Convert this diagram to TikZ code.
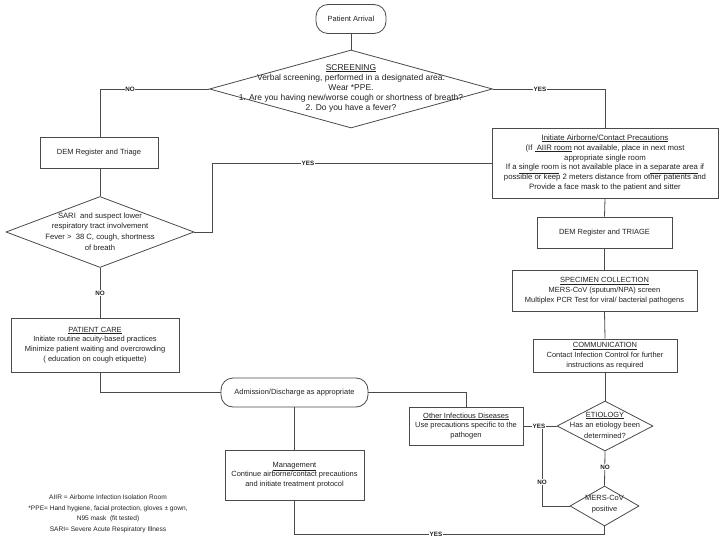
\documentclass[tikz,border=0pt]{standalone}
\usepackage{fontspec}
\setmainfont{Liberation Sans}
\usetikzlibrary{shapes.geometric}
\definecolor{linec}{HTML}{4A4A4A}
\definecolor{txt}{HTML}{222222}
\begin{document}
\begin{tikzpicture}[x=1bp,y=-1bp,
  box/.style={draw=linec, line width=0.8bp, fill=white, align=center, inner sep=1bp, text=txt, font=\fontsize{7.5}{9.8}\selectfont},
  pill/.style={box, rounded corners=12bp},
  dia/.style={draw=linec, diamond, inner sep=0pt, line width=0.8bp, fill=white},
  diatext/.style={align=center, inner sep=0pt, text=txt, font=\fontsize{7.5}{10.5}\selectfont},
  lbl/.style={font=\bfseries\fontsize{6.3}{7}\selectfont, fill=white, inner sep=0.6bp, text=txt},
  conn/.style={draw=linec, line width=0.8bp}
]
\useasboundingbox[fill=white] (0,0) rectangle (722,541);

% nodes
\node[pill, minimum width=70bp, minimum height=29bp] (arr) at (351,19) {Patient Arrival};

\node[dia, minimum width=283bp, minimum height=78bp] (scr) at (351,89) {};
\node[diatext, font=\fontsize{8.5}{10}\selectfont] (scrt) at (351,88) {\underline{SCREENING}\\Verbal screening, performed in a designated area.\\Wear *PPE.\\1. Are you having new/worse cough or shortness of breath?\\2. Do you have a fever?};

\node[box, minimum width=118bp, minimum height=31bp] (dem1) at (99,153) {DEM Register and Triage};

\node[dia, minimum width=188bp, minimum height=71bp] (sari) at (100,232) {};
\node[diatext, font=\fontsize{7.7}{10.8}\selectfont] (sarit) at (100,231.5) {SARI\ \ and suspect lower\\respiratory tract involvement\\Fever >\ \ 38 C, cough, shortness\\of breath};

\node[box, minimum width=168bp, minimum height=54bp] (pcare) at (95,345) {\underline{PATIENT CARE}\\Initiate routine acuity-based practices\\Minimize patient waiting and overcrowding\\( education on cough etiquette)};

\node[box, minimum width=226bp, minimum height=70bp, font=\fontsize{7.8}{10}\selectfont] (init) at (605,163) {\underline{Initiate Airborne/Contact Precautions}\\(If \underline{\ AIIR room} not available, place in next most\\appropriate single room\\If a \underline{single room} is not available place in a \underline{separate area} if\\possible or keep 2 meters distance from other patients and\\Provide a face mask to the patient and sitter};

\node[box, minimum width=135bp, minimum height=31bp] (dem2) at (604.5,232.5) {DEM Register and TRIAGE};

\node[box, minimum width=185bp, minimum height=41bp] (spec) at (604.5,290.5) {\underline{SPECIMEN COLLECTION}\\MERS-CoV (sputum/NPA) screen\\Multiplex PCR Test for viral/ bacterial pathogens};

\node[box, minimum width=144bp, minimum height=33bp] (comm) at (605,355.5) {\underline{COMMUNICATION}\\Contact Infection Control for further\\instructions as required};

\node[dia, minimum width=96bp, minimum height=50bp] (etio) at (605,426) {};
\node[diatext] (etiot) at (605,425) {\underline{ETIOLOGY}\\Has an etiology been\\determined?};

\node[dia, minimum width=69bp, minimum height=40bp] (mers) at (604.5,506) {};
\node[diatext] (merst) at (604.5,504) {MERS-CoV\\positive};

\node[pill, minimum width=147bp, minimum height=29bp] (adm) at (294.5,392.5) {Admission/Discharge as appropriate};

\node[box, minimum width=114bp, minimum height=38bp] (other) at (466,426) {\underline{Other Infectious Diseases}\\Use precautions specific to the\\pathogen};

\node[box, minimum width=139bp, minimum height=50bp] (mgmt) at (294.5,475) {\underline{Management}\\Continue airborne/contact precautions\\and initiate treatment protocol};

\node[align=center, text=txt, font=\fontsize{6.6}{10.6}\selectfont, inner sep=0pt] (leg) at (108,514) {AIIR = Airborne Infection Isolation Room\\*PPE= Hand hygiene, facial protection, gloves \textpm\ gown,\\N95 mask\ \ (fit tested)\\SARI= Severe Acute Respiratory Illness};

\coordinate (j) at (542,426);
\coordinate (b) at (294.5,534);

% connectors
\draw[conn] (arr.south) -- (scr.north);
\draw[conn] (scr.west) -| (dem1.north -| sari.north);
\draw[conn] (scr.east) -| (init.north);
\draw[conn] (dem1.south -| sari.north) -- (sari.north);
\draw[conn] (sari.south) -- (sari.south |- pcare.north);
\draw[conn] (sari.east) -- ++(18,0) |- (init.west);
\draw[conn] (init.south) -- (dem2.north);
\draw[conn] (dem2.south) -- (spec.north);
\draw[conn] (spec.south) -- (comm.north);
\draw[conn] (comm.south) -- (etio.north);
\draw[conn] (etio.south) -- (mers.north);
\draw[conn] (etio.west) -- (other.east);
\draw[conn] (mers.west) -| (j);
\draw[conn] (mers.south) |- (b) -- (mgmt.south);
\draw[conn] (pcare.south -| sari.south) |- (adm.west);
\draw[conn] (adm.east) -| (other.north);
\draw[conn] (adm.south) -- (mgmt.north);

% labels
\node[lbl] (l1) at (130,89) {NO};
\node[lbl] (l2) at (540,89) {YES};
\node[lbl] (l3) at (100,293) {NO};
\node[lbl] (l4) at (308,163) {YES};
\node[lbl] (l5) at (605,467) {NO};
\node[lbl] (l6) at (539,426) {YES};
\node[lbl] (l7) at (542,482) {NO};
\node[lbl] (l8) at (436,534) {YES};
\end{tikzpicture}
\end{document}
